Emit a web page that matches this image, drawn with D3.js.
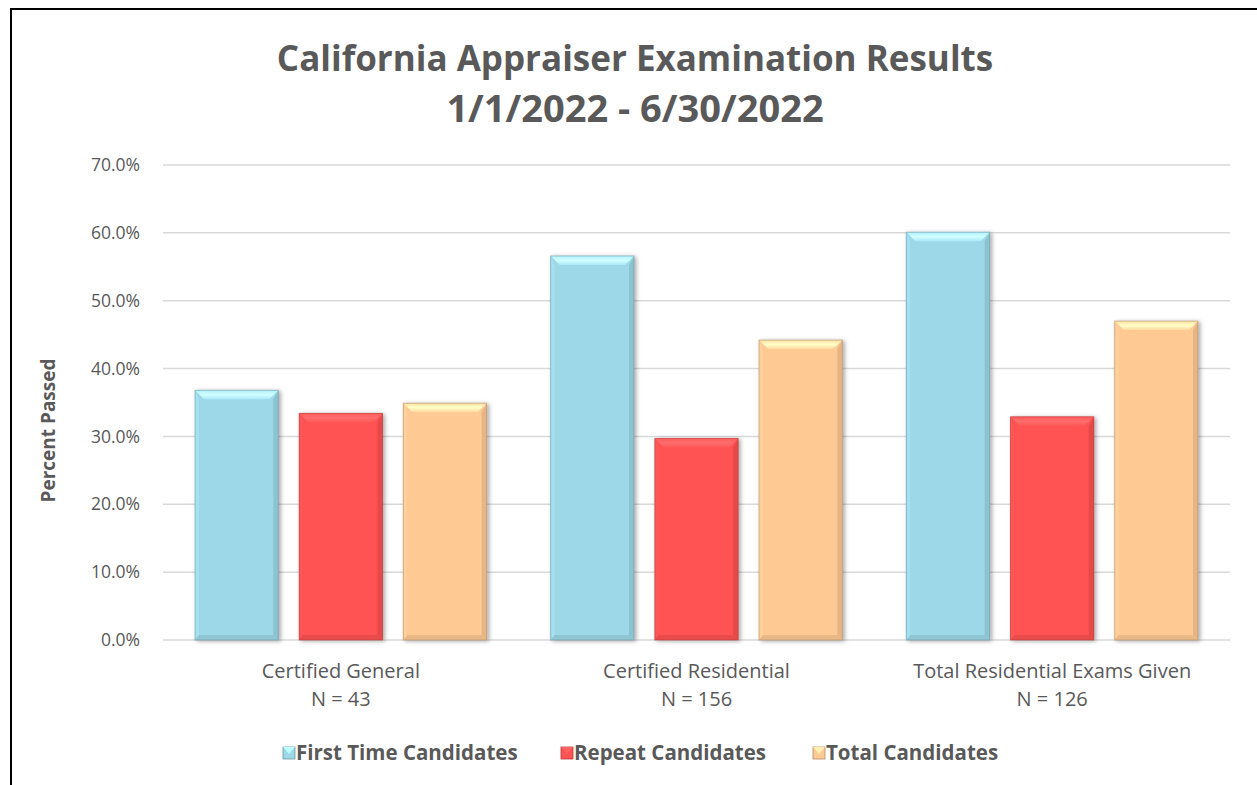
<!DOCTYPE html>
<html>
<head>
<meta charset="utf-8">
<script src="https://cdn.jsdelivr.net/npm/d3@7/dist/d3.min.js"></script>
<style>
  body { margin: 0; background: #fff; }
  svg text { font-family: "Open Sans", sans-serif; fill: #595959; }
</style>
</head>
<body>
<svg id="chart" width="1257" height="785"></svg>
<script>
// data
const categories = ["Certified General", "Certified Residential", "Total Residential Exams Given"]
const sampleSizes = ["N = 43", "N = 156", "N = 126"]
const seriesNames = ["First Time Candidates", "Repeat Candidates", "Total Candidates"]
const firstTime = [36.8, 56.6, 60.1]
const repeat = [33.4, 29.7, 32.9]
const total = [34.9, 44.2, 47.0]
const yTicks = [0, 10, 20, 30, 40, 50, 60, 70]

const seriesValues = [firstTime, repeat, total]
const colors = ["#9dd8e8", "#ff5252", "#ffc994"]

const svg = d3.select("#chart")
const defs = svg.append("defs")

// soft shadow like the office bevel style
const shadow = defs.append("filter").attr("id", "shadow")
  .attr("x", "-10%").attr("y", "-10%").attr("width", "130%").attr("height", "130%")
shadow.append("feDropShadow")
  .attr("dx", 2).attr("dy", 1).attr("stdDeviation", 2)
  .attr("flood-color", "#000").attr("flood-opacity", 0.35)

// top bevel gradients, light at the edge fading to the bar colour
colors.forEach((c, i) => {
  const gr = defs.append("linearGradient").attr("id", "top" + i)
    .attr("x1", 0).attr("y1", 0).attr("x2", 0).attr("y2", 1)
  gr.append("stop").attr("offset", 0).attr("stop-color", d3.color(c).brighter(0.3))
  gr.append("stop").attr("offset", 0.5).attr("stop-color", d3.color(c).brighter(0.8))
  gr.append("stop").attr("offset", 1).attr("stop-color", d3.color(c).brighter(0.2))
})

// frame (top + left only, as in the picture)
svg.append("path")
  .attr("d", "M11,785 V9 H1257")
  .attr("fill", "none").attr("stroke", "#000").attr("stroke-width", 2)

const margin = {left: 163, right: 1230, top: 165, bottom: 640}

const x0 = d3.scaleBand().domain(categories).range([margin.left, margin.right])
const x1 = d3.scaleBand().domain(seriesNames)
  .range([32, x0.bandwidth() - 32]).paddingInner(0.2)
const y = d3.scaleLinear().domain([0, 70]).range([margin.bottom, margin.top])

// gridlines
svg.append("g").selectAll("line").data(yTicks).enter()
  .append("line")
  .attr("x1", margin.left).attr("x2", margin.right)
  .attr("y1", d => y(d)).attr("y2", d => y(d))
  .attr("stroke", "#d9d9d9").attr("stroke-width", 1.5)

// y axis tick labels
const yAxis = d3.axisLeft(y).tickValues(yTicks).tickSize(0).tickPadding(23)
  .tickFormat(d => d.toFixed(1) + "%")
const ya = svg.append("g").attr("transform", `translate(${margin.left},0)`).call(yAxis)
ya.select(".domain").remove()
ya.selectAll("text").attr("font-size", 17.5).style("font-family", "'Open Sans', sans-serif").attr("fill", "#595959")

// axis title
svg.append("text")
  .attr("transform", `translate(55,${(margin.top + margin.bottom) / 2 + 28}) rotate(-90)`)
  .attr("text-anchor", "middle").attr("font-size", 19).attr("font-weight", "bold")
  .text("Percent Passed")

// bars
const bevel = 9
const groups = svg.append("g").selectAll("g").data(categories).enter()
  .append("g").attr("transform", d => `translate(${x0(d)},0)`)

groups.each(function (cat, ci) {
  const g = d3.select(this)
  seriesNames.forEach((s, si) => {
    const v = seriesValues[si][ci]
    const bx = x1(s), bw = x1.bandwidth()
    const by = y(v), bh = y(0) - y(v)
    const c = d3.color(colors[si])
    const bar = g.append("g").attr("filter", "url(#shadow)")
    bar.append("rect").attr("x", bx).attr("y", by).attr("width", bw).attr("height", bh)
      .attr("fill", colors[si])
    // top bevel
    bar.append("path")
      .attr("d", `M${bx},${by} H${bx + bw} L${bx + bw - bevel},${by + bevel} H${bx + bevel} Z`)
      .attr("fill", `url(#top${si})`)
    // right bevel
    bar.append("path")
      .attr("d", `M${bx + bw},${by} V${by + bh} L${bx + bw - 5},${by + bh - 5} V${by + bevel} Z`)
      .attr("fill", c.darker(0.3))
    // left bevel
    bar.append("path")
      .attr("d", `M${bx},${by} V${by + bh} L${bx + 4},${by + bh - 4} V${by + bevel} Z`)
      .attr("fill", c.brighter(0.1))
    // bottom bevel
    bar.append("path")
      .attr("d", `M${bx},${by + bh} H${bx + bw} L${bx + bw - 5},${by + bh - 5} H${bx + 4} Z`)
      .attr("fill", c.darker(0.25))
    bar.append("rect").attr("x", bx).attr("y", by).attr("width", bw).attr("height", bh)
      .attr("fill", "none").attr("stroke", c.darker(1.2)).attr("stroke-opacity", 0.5).attr("stroke-width", 1)
  })
})

// category labels
const labels = svg.append("g").selectAll("g").data(categories).enter().append("g")
labels.append("text")
  .attr("x", d => x0(d) + x0.bandwidth() / 2).attr("y", 678)
  .attr("text-anchor", "middle").attr("font-size", 20)
  .text(d => d)
labels.append("text")
  .attr("x", d => x0(d) + x0.bandwidth() / 2).attr("y", 706)
  .attr("text-anchor", "middle").attr("font-size", 20)
  .text((d, i) => sampleSizes[i])

// title
svg.append("text").attr("x", 635).attr("y", 71).attr("text-anchor", "middle")
  .attr("font-size", 35).attr("font-weight", "bold").text("California Appraiser Examination Results")
svg.append("text").attr("x", 635).attr("y", 122).attr("text-anchor", "middle")
  .attr("font-size", 38).attr("font-weight", "bold").text("1/1/2022 - 6/30/2022")

// legend
const legendX = [283, 561, 813]
const legend = svg.append("g").selectAll("g").data(seriesNames).enter()
  .append("g").attr("transform", (d, i) => `translate(${legendX[i]},747)`)
legend.append("rect").attr("width", 12).attr("height", 12)
  .attr("fill", (d, i) => colors[i])
  .attr("stroke", (d, i) => d3.color(colors[i]).darker(1)).attr("stroke-width", 0.8)
legend.append("path").attr("d", "M0,0 H12 L6,7 Z")
  .attr("fill", (d, i) => d3.color(colors[i]).brighter(0.5))
legend.append("text").attr("x", 13).attr("y", 13)
  .attr("font-size", 20.5).attr("font-weight", "bold").text(d => d)
</script>
</body>
</html>
